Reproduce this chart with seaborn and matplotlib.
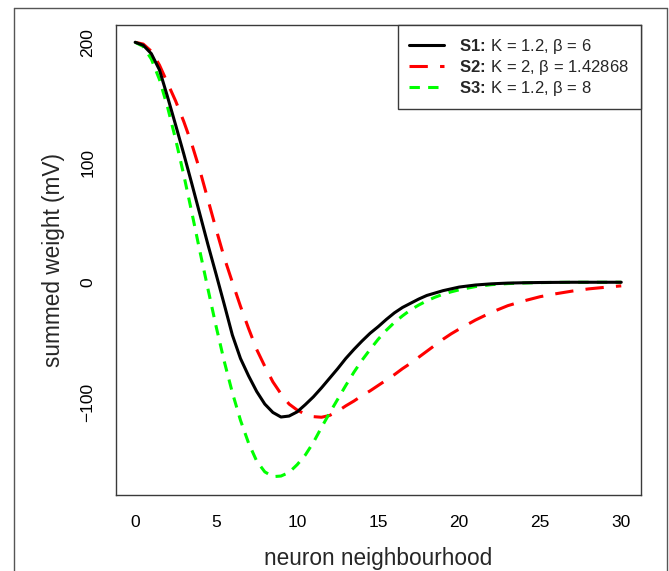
import numpy as np
import pandas as pd
import matplotlib
matplotlib.use("Agg")
import matplotlib.pyplot as plt
from matplotlib.lines import Line2D
import seaborn as sns

# ---- data ----
x_vals = [0, 0.5, 1, 1.5, 2, 2.5, 3, 3.5, 4, 4.5, 5, 5.5, 6, 6.5, 7, 7.5, 8, 8.5, 9, 9.5,
          10, 10.5, 11, 11.5, 12, 12.5, 13, 13.5, 14, 14.5, 15, 15.5, 16, 16.5, 17, 17.5,
          18, 18.5, 19, 19.5, 20, 21, 22, 23, 24, 25, 26, 27, 28, 29, 30]

s1_vals = [200, 197.5, 190.5, 177, 154.5, 131, 107, 82, 56.5, 31, 6.5, -18.5, -44, -63.5,
           -78, -91, -101.5, -108.5, -112.3, -111.5, -108, -102, -95.5, -88, -80, -72, -63.5,
           -56, -49, -42.5, -37, -31, -25.5, -21, -17.5, -14, -11, -9, -7, -5.5, -4,
           -2.3, -1.3, -0.7, -0.4, -0.2, -0.1, 0, 0, 0, 0]

s2_vals = [200, 198.5, 192.5, 181, 166, 151, 134, 115, 93, 68.5, 44, 20.5, 0, -20, -38.5,
           -56, -70, -83, -93, -101.5, -106.5, -110, -112, -112.5, -111, -107.5, -103,
           -99, -94.5, -90.5, -86, -81.5, -77, -72, -67.5, -62.5, -57.5, -52.5, -47.5,
           -43, -39, -31.5, -25, -19.5, -15.5, -12, -9.5, -7.3, -5.5, -4.2, -3]

s3_vals = [200, 196.5, 186, 169, 146, 119, 89.5, 58, 25.5, -6, -37, -66, -92, -115, -134,
           -149, -158, -162, -161.5, -158.5, -152, -144, -133.5, -121, -109, -97.5, -86,
           -75, -65, -56, -47.5, -40, -33.5, -28, -23, -19, -15.5, -12.5, -10, -8, -6.3,
           -3.6, -2, -1.1, -0.6, -0.3, -0.1, 0, 0, 0, 0]

series_labels = [r"$\mathbf{S1}\!\mathbf{:}\!$ K = 1.2, β = 6",
                 r"$\mathbf{S2}\!\mathbf{:}\!$ K = 2, β = 1.42868",
                 r"$\mathbf{S3}\!\mathbf{:}\!$ K = 1.2, β = 8"]
x_ticks = [0, 5, 10, 15, 20, 25, 30]
y_ticks = [-100, 0, 100, 200]

# ---- style ----
sns.set_style("white")
plt.rcParams["font.family"] = ["Liberation Sans", "DejaVu Sans"]
plt.rcParams["mathtext.fontset"] = "custom"
plt.rcParams["mathtext.rm"] = "Liberation Sans"
plt.rcParams["mathtext.bf"] = "Liberation Sans:bold"
plt.rcParams["mathtext.it"] = "Liberation Sans:italic"

W, H = 669, 571
fig = plt.figure(figsize=(W / 100, H / 100), dpi=100)
fig.patch.set_facecolor("white")
ax = fig.add_axes([115.7 / W, 1 - 495 / H, (640.7 - 115.7) / W, (495 - 25) / H])

df = pd.DataFrame({"x": x_vals, "S1": s1_vals, "S2": s2_vals, "S3": s3_vals})

lw = 2.2
# red (long dashes)
sns.lineplot(data=df, x="x", y="S2", ax=ax, color="#FF0000", linewidth=lw,
             label=series_labels[1], zorder=2)
ax.lines[-1].set_dashes((6.0, 4.0))
# green (short dashes)
sns.lineplot(data=df, x="x", y="S3", ax=ax, color="#00FF00", linewidth=lw,
             label=series_labels[2], zorder=3)
ax.lines[-1].set_dashes((3.4, 2.7))
# black solid
sns.lineplot(data=df, x="x", y="S1", ax=ax, color="black", linewidth=lw,
             label=series_labels[0], zorder=4)

ax.set_xlim(-1.2, 31.2)
ax.set_ylim(-177.3, 214.4)
ax.set_xticks(x_ticks)
ax.set_yticks(y_ticks)
ax.set_xticklabels([str(v) for v in x_ticks])
ax.set_yticklabels([str(v).replace("-", "\u2212") for v in y_ticks])

for s in ax.spines.values():
    s.set_color("#3a3a3a")
    s.set_linewidth(1.0)

ax.tick_params(axis="both", direction="out", length=6.5, width=0.9, color="#808080",
               labelsize=12.5, labelcolor="black", pad=8)
ax.tick_params(axis="y", labelrotation=90)
for lbl in ax.get_yticklabels():
    lbl.set_va("center")

ax.set_xlabel("neuron neighbourhood", fontsize=16.3, va="center")
ax.set_ylabel("summed weight (mV)", fontsize=16.3, va="center")
ax.xaxis.set_label_coords(0.5, -0.136)
ax.yaxis.set_label_coords(-0.1194, 0.5)

# legend (order S1, S2, S3)
handles, labels = ax.get_legend_handles_labels()
order = [labels.index(l) for l in series_labels]
leg = ax.legend([handles[i] for i in order], [labels[i] for i in order],
                loc="upper right", bbox_to_anchor=(1.0, 1.0), borderaxespad=0,
                fancybox=False, framealpha=1, edgecolor="#3a3a3a", fontsize=12,
                handlelength=2.1, handletextpad=0.9, borderpad=0.7, labelspacing=0.12)
leg.get_frame().set_linewidth(1.0)

# outer frame (left, top, right)
fc = "#555555"
fig.add_artist(Line2D([14 / W, 14 / W], [0, 1 - 8 / H], transform=fig.transFigure,
                      color=fc, lw=1.0))
fig.add_artist(Line2D([14 / W, 667 / W], [1 - 8 / H, 1 - 8 / H], transform=fig.transFigure,
                      color=fc, lw=1.0))
fig.add_artist(Line2D([667 / W, 667 / W], [0, 1 - 8 / H], transform=fig.transFigure,
                      color=fc, lw=1.0))

fig.savefig("out.png", dpi=100)
